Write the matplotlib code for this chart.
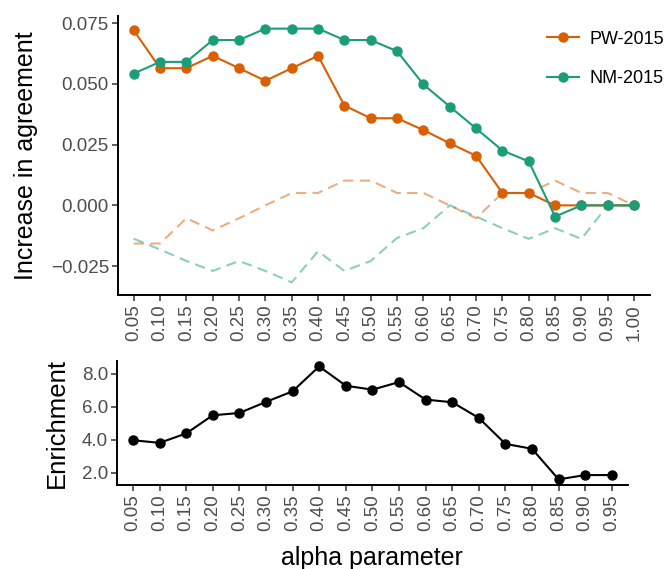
import matplotlib.pyplot as plt

plt.rcParams["font.family"] = ["Liberation Sans", "DejaVu Sans"]

alpha_labels = ["0.05", "0.10", "0.15", "0.20", "0.25", "0.30", "0.35", "0.40", "0.45", "0.50",
                "0.55", "0.60", "0.65", "0.70", "0.75", "0.80", "0.85", "0.90", "0.95", "1.00"]

pw_2015 = [0.0721, 0.0565, 0.0565, 0.0616, 0.0565, 0.0513, 0.0565, 0.0616, 0.0411, 0.0359,
           0.0359, 0.0310, 0.0256, 0.0204, 0.0051, 0.0051, 0.0, 0.0, 0.0, 0.0]
nm_2015 = [0.0543, 0.0591, 0.0591, 0.0681, 0.0681, 0.0728, 0.0728, 0.0728, 0.0681, 0.0681,
           0.0635, 0.0498, 0.0407, 0.0317, 0.0226, 0.0181, -0.0046, 0.0, 0.0, 0.0]

# baselines (dashed)
pw_base = [-0.0157, -0.0157, -0.0053, -0.0103, -0.0053, 0.0, 0.0051, 0.0051, 0.0102, 0.0102,
           0.0051, 0.0051, 0.0, -0.0053, 0.0051, 0.0051, 0.0102, 0.0051, 0.0051, 0.0]
nm_base = [-0.0137, -0.0182, -0.0229, -0.0270, -0.0229, -0.0270, -0.0317, -0.0189, -0.0270, -0.0229,
           -0.0134, -0.0094, 0.0, -0.0046, -0.0094, -0.0138, -0.0094, -0.0138, 0.0, 0.0]

enrich_labels = alpha_labels[:19]
enrichment = [3.97, 3.81, 4.38, 5.48, 5.62, 6.29, 6.93, 8.44, 7.27, 7.03,
              7.49, 6.43, 6.27, 5.32, 3.75, 3.45, 1.60, 1.86, 1.86]

orange = "#D95F02"
green = "#1B9E77"
grey = "#4D4D4D"

fig = plt.figure(figsize=(6.7, 5.69), dpi=100)
ax1 = fig.add_axes([0.176, 0.4815, 0.794, 0.4905])
ax2 = fig.add_axes([0.1746, 0.1476, 0.7624, 0.2184])


def style(ax):
    for s in ["top", "right"]:
        ax.spines[s].set_visible(False)
    for s in ["left", "bottom"]:
        ax.spines[s].set_linewidth(1.4)
    ax.tick_params(length=4, width=1.1, color="#333333", labelcolor=grey, labelsize=13.5, pad=2.5)


x1 = list(range(len(alpha_labels)))
ax1.plot(x1, pw_base, color=orange, alpha=0.5, lw=1.5, dashes=(5, 3))
ax1.plot(x1, nm_base, color=green, alpha=0.5, lw=1.5, dashes=(5, 3))
ax1.plot(x1, pw_2015, color=orange, lw=1.5, marker="o", ms=6.5, label="PW-2015")
ax1.plot(x1, nm_2015, color=green, lw=1.5, marker="o", ms=6.5, label="NM-2015")
ax1.set_xlim(-0.6, len(alpha_labels) - 0.4)
ax1.set_xticks(x1)
ax1.set_xticklabels(alpha_labels, rotation=90)
ax1.set_yticks([-0.025, 0.0, 0.025, 0.050, 0.075])
ax1.set_yticklabels(["\u22120.025", "0.000", "0.025", "0.050", "0.075"])
ax1.set_ylabel("Increase in agreement", fontsize=18, labelpad=9)
style(ax1)
ax1.legend(loc="upper right", bbox_to_anchor=(1.058, 1.006), frameon=False, fontsize=13,
           handlelength=1.8, labelspacing=1.25, handletextpad=0.6)

x2 = list(range(len(enrich_labels)))
ax2.plot(x2, enrichment, color="black", lw=1.5, marker="o", ms=6.5)
ax2.set_xlim(-0.6, len(enrich_labels) - 0.4)
ax2.set_xticks(x2)
ax2.set_xticklabels(enrich_labels, rotation=90)
ax2.set_yticks([2, 4, 6, 8])
ax2.set_yticklabels(["2.0", "4.0", "6.0", "8.0"])
ax2.set_ylabel("Enrichment", fontsize=18.5, labelpad=9)
ax2.set_xlabel("alpha parameter", fontsize=18, labelpad=11)
style(ax2)

fig.savefig("out.png", dpi=100)
